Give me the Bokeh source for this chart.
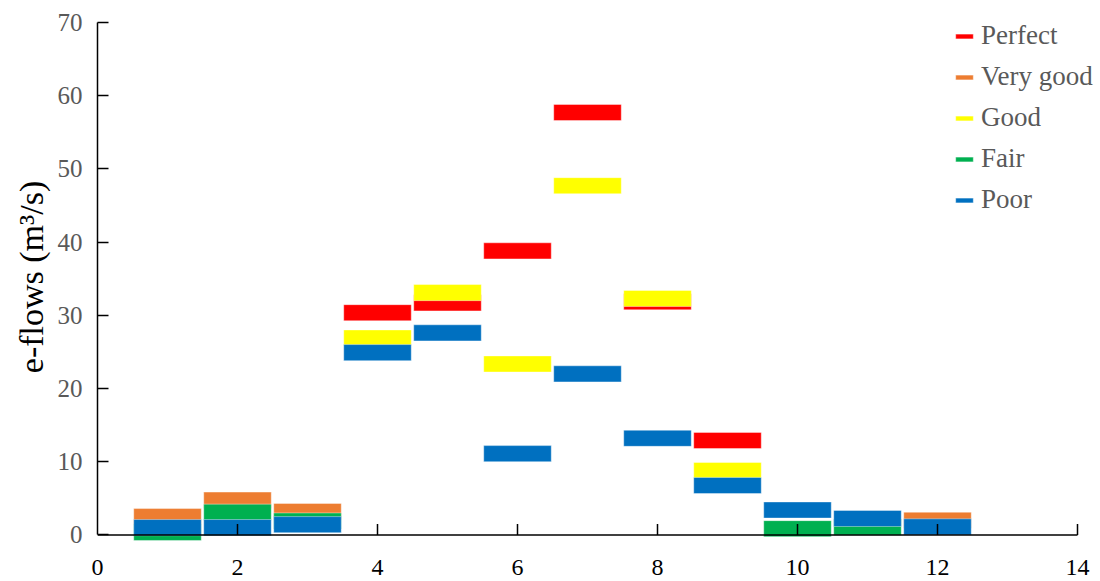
import math
from bokeh.plotting import figure
from bokeh.models import Range1d, Legend, LegendItem, FixedTicker, ColumnDataSource
from bokeh.embed import file_html
from bokeh.resources import INLINE

nan = float("nan")
months = [1, 2, 3, 4, 5, 6, 7, 8, 9, 10, 11, 12]
perfect = [nan, nan, nan, 30.35, 31.7, 38.8, 57.7, 31.85, 12.9, nan, nan, nan]
very_good = [2.5, 4.75, 3.2, nan, nan, nan, nan, nan, nan, nan, nan, 2.0]
good = [nan, nan, nan, 26.9, 33.1, 23.35, 47.7, 32.3, 8.8, nan, nan, nan]
fair = [0.34, 3.1, 1.9, nan, nan, nan, nan, nan, nan, 0.85, 1.06, nan]
poor = [1.0, 1.0, 1.4, 24.9, 27.6, 11.1, 22.0, 13.2, 6.75, 3.4, 2.25, 1.1]

series_names = ["Perfect", "Very good", "Good", "Fair", "Poor"]
series_values = [perfect, very_good, good, fair, poor]
series_colors = ["#FF0000", "#ED7D31", "#FFFF00", "#00B050", "#0070C0"]

x_ticks = [0, 2, 4, 6, 8, 10, 12, 14]
y_ticks = [0, 10, 20, 30, 40, 50, 60, 70]

FONT = "Liberation Serif"

p = figure(width=1098, height=581, output_backend="svg", toolbar_location=None,
           x_range=Range1d(0, 14.3), y_range=Range1d(-0.9, 71.36),
           min_border_left=97, min_border_right=0, min_border_top=12, min_border_bottom=40)
p.grid.visible = False
p.outline_line_color = None
p.background_fill_color = "white"
p.border_fill_color = "white"

renderers = []
for vals, col in zip(series_values, series_colors):
    xs = [m for m, v in zip(months, vals) if not math.isnan(v)]
    ys = [v for v in vals if not math.isnan(v)]
    src = ColumnDataSource(dict(x=xs, y=ys))
    r = p.rect(x="x", y="y", width=0.965, height=2.2, source=src, fill_color=col,
               line_color="white", line_width=1, line_alpha=0.4)
    renderers.append(r)

# x axis line and inward ticks drawn at y=0
p.line(x=[x_ticks[0], x_ticks[-1]], y=[0, 0], line_color="black", line_width=1.5)
p.segment(x0=x_ticks[1:], y0=[0] * (len(x_ticks) - 1), x1=x_ticks[1:], y1=[1.5] * (len(x_ticks) - 1),
          line_color="black", line_width=1.5)

xa = p.xaxis[0]
xa.ticker = FixedTicker(ticks=x_ticks)
xa.axis_line_color = None
xa.major_tick_line_color = None
xa.minor_tick_line_color = None
xa.major_label_text_font = FONT
xa.major_label_text_font_size = "24px"
xa.major_label_text_color = "black"
xa.major_label_standoff = 12

ya = p.yaxis[0]
ya.ticker = FixedTicker(ticks=y_ticks)
ya.bounds = (0, 70)
ya.axis_line_color = "black"
ya.axis_line_width = 1.5
ya.major_tick_line_width = 1.5
ya.major_tick_in = 11
ya.major_tick_out = 0
ya.minor_tick_line_color = None
ya.major_label_text_font = FONT
ya.major_label_text_font_size = "25px"
ya.major_label_text_color = "#595959"
ya.major_label_standoff = 15
ya.axis_label = "e-flows (m³/s)"
ya.axis_label_text_font = FONT
ya.axis_label_text_font_size = "34px"
ya.axis_label_text_font_style = "normal"
ya.axis_label_text_color = "black"
ya.axis_label_standoff = 5

items = [LegendItem(label=name, renderers=[r]) for name, r in zip(series_names, renderers)]
legend = Legend(items=items, location=(856, 326), orientation="vertical")
legend.border_line_color = None
legend.background_fill_alpha = 0
legend.padding = 0
legend.margin = 0
legend.spacing = 10
legend.glyph_width = 22
legend.glyph_height = 6
legend.label_height = 20
legend.label_standoff = 6
legend.label_text_font = FONT
legend.label_text_font_size = "27px"
legend.label_text_color = "#595959"
p.add_layout(legend)

open("out.html", "w").write(file_html(p, INLINE))
